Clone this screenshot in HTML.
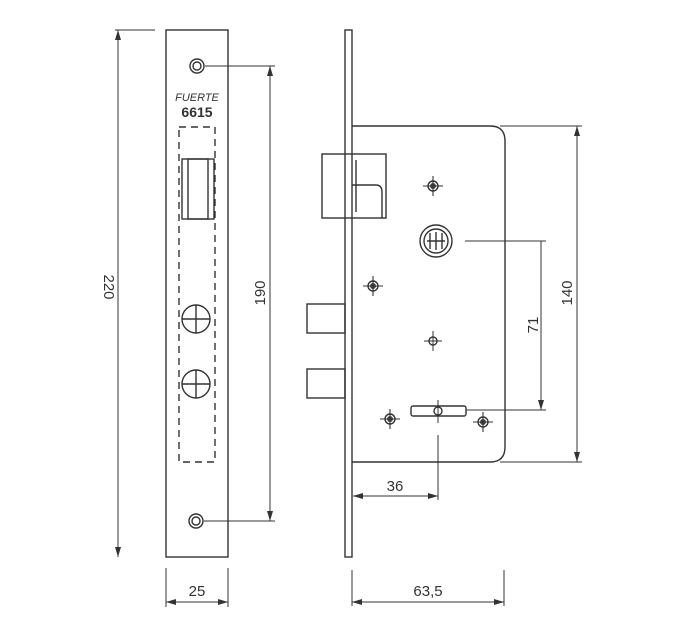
<!DOCTYPE html>
<html><head><style>
html,body{margin:0;padding:0;background:#fff;}
svg{display:block;}
text{font-family:"Liberation Sans",sans-serif;fill:#333;}
</style></head><body>
<svg width="700" height="627" viewBox="0 0 700 627" xmlns="http://www.w3.org/2000/svg">
<defs>
<marker id="a" viewBox="0 0 10 6" refX="10" refY="3" markerWidth="10" markerHeight="6" orient="auto-start-reverse" markerUnits="userSpaceOnUse"><path d="M0,0 L10,3 L0,6 z" fill="#333"/></marker>
<g id="scr">
<circle r="5" fill="none" stroke="#333" stroke-width="1.4"/>
<circle r="3" fill="#444"/>
<line x1="-10" y1="0" x2="10" y2="0" stroke="#333" stroke-width="1.1"/>
<line x1="0" y1="-10" x2="0" y2="10" stroke="#333" stroke-width="1.1"/>
</g>
</defs>
<g stroke="#333" stroke-width="1.4" fill="none">
<rect x="166" y="30" width="62" height="527"/>
<circle cx="197" cy="66" r="7"/><circle cx="197" cy="66" r="4"/>
<circle cx="196" cy="521" r="7"/><circle cx="196" cy="521" r="4"/>
<rect x="179" y="127" width="36" height="335" stroke-dasharray="7,5"/>
<rect x="182" y="159" width="32" height="60"/>
<rect x="188" y="159" width="20" height="60"/>
<circle cx="196" cy="319" r="14"/><line x1="182" y1="319" x2="210" y2="319"/><line x1="196" y1="305" x2="196" y2="333"/>
<circle cx="196" cy="384" r="14"/><line x1="182" y1="384" x2="210" y2="384"/><line x1="196" y1="370" x2="196" y2="398"/>
<line x1="115" y1="30" x2="155" y2="30" stroke-width="1"/>
<line x1="118" y1="30" x2="118" y2="557" stroke-width="1" marker-start="url(#a)" marker-end="url(#a)"/>
<line x1="205" y1="66" x2="275" y2="66" stroke-width="1"/>
<line x1="204" y1="521" x2="275" y2="521" stroke-width="1"/>
<line x1="270" y1="66" x2="270" y2="521" stroke-width="1" marker-start="url(#a)" marker-end="url(#a)"/>
<line x1="166" y1="568" x2="166" y2="607" stroke-width="1"/>
<line x1="228" y1="568" x2="228" y2="607" stroke-width="1"/>
<line x1="166" y1="602" x2="228" y2="602" stroke-width="1" marker-start="url(#a)" marker-end="url(#a)"/>

<rect x="345" y="30" width="7" height="527"/>
<path d="M352,126 H490 Q505,126 505,141 V447 Q505,462 490,462 H352"/>
<rect x="322" y="154" width="64" height="64"/>
<line x1="356" y1="160" x2="356" y2="212"/>
<path d="M352,185 H376 Q382,185 382,192 V218"/>
<rect x="307" y="304" width="38" height="29"/>
<rect x="307" y="369" width="38" height="29"/>
<circle cx="436" cy="241" r="16"/><circle cx="436" cy="241" r="12"/>
<line x1="427" y1="241" x2="445" y2="241"/><line x1="436" y1="232" x2="436" y2="250"/>
<line x1="430" y1="233" x2="430" y2="249"/><line x1="442" y1="233" x2="442" y2="249"/>
<rect x="411" y="406" width="55" height="10" rx="2"/>
<circle cx="438" cy="411" r="4"/>
<line x1="438" y1="400" x2="438" y2="423" stroke-width="1"/>
<circle cx="433" cy="341" r="4"/>
<line x1="424" y1="341" x2="442" y2="341" stroke-width="1"/><line x1="433" y1="331" x2="433" y2="351" stroke-width="1"/>
<line x1="465" y1="241" x2="546" y2="241" stroke-width="1"/>
<line x1="466" y1="410" x2="546" y2="410" stroke-width="1"/>
<line x1="541" y1="241" x2="541" y2="410" stroke-width="1" marker-end="url(#a)"/>
<line x1="500" y1="126" x2="582" y2="126" stroke-width="1"/>
<line x1="500" y1="462" x2="582" y2="462" stroke-width="1"/>
<line x1="577" y1="126" x2="577" y2="462" stroke-width="1" marker-start="url(#a)" marker-end="url(#a)"/>
<line x1="438" y1="435" x2="438" y2="500" stroke-width="1"/>
<line x1="353" y1="496" x2="438" y2="496" stroke-width="1" marker-start="url(#a)" marker-end="url(#a)"/>
<line x1="352" y1="570" x2="352" y2="606" stroke-width="1"/>
<line x1="504" y1="570" x2="504" y2="606" stroke-width="1"/>
<line x1="352" y1="602" x2="504" y2="602" stroke-width="1" marker-start="url(#a)" marker-end="url(#a)"/>
</g>
<use href="#scr" x="433" y="186"/>
<use href="#scr" x="373" y="286"/>
<use href="#scr" x="390" y="419"/>
<use href="#scr" x="483" y="422"/>
<text x="197" y="101" font-size="11" font-style="italic" text-anchor="middle">FUERTE</text>
<text x="197" y="117" font-size="14" font-weight="bold" text-anchor="middle">6615</text>
<text transform="translate(104,287) rotate(90)" font-size="15" text-anchor="middle">220</text>
<text transform="translate(265,293) rotate(-90)" font-size="15" text-anchor="middle">190</text>
<text x="197" y="596" font-size="15" text-anchor="middle">25</text>
<text transform="translate(538,325) rotate(-90)" font-size="15" text-anchor="middle">71</text>
<text transform="translate(572,293) rotate(-90)" font-size="15" text-anchor="middle">140</text>
<text x="395" y="491" font-size="15" text-anchor="middle">36</text>
<text x="428" y="596" font-size="15" text-anchor="middle">63,5</text>
</svg>
</body></html>
